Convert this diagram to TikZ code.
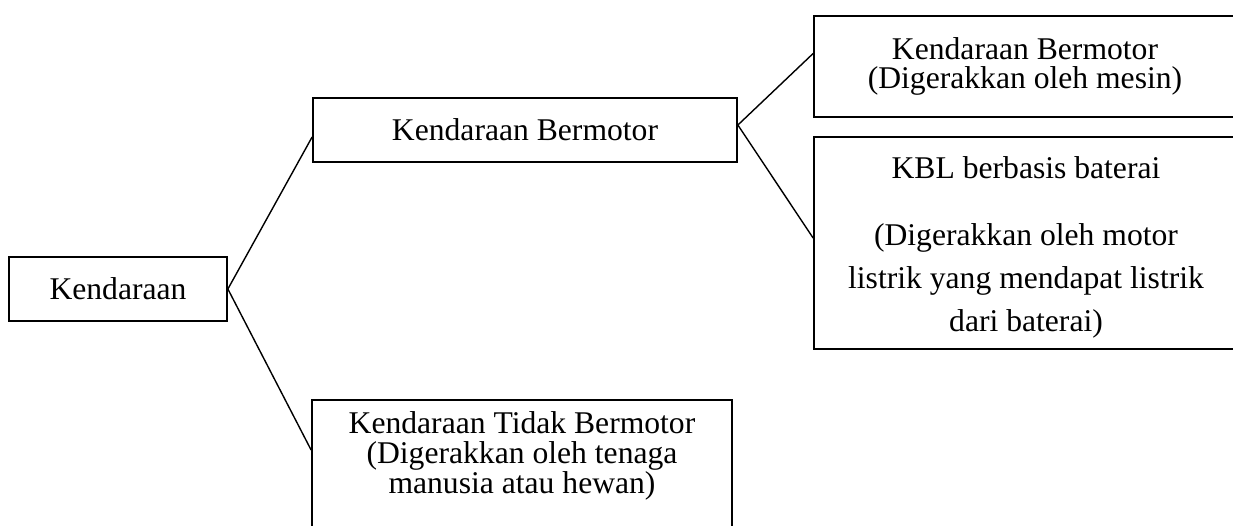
\documentclass[tikz,border=0pt]{standalone}
\usepackage{fontspec}
\setmainfont{Liberation Serif}

\tikzset{
    kotak/.style={draw,line width=1pt,align=center,inner sep=0pt},
    garis/.style={line width=0.8pt}
}

\begin{document}
\begin{tikzpicture}[x=0.02cm,y=-0.02cm,font=\fontsize{18}{17}\selectfont]
        \useasboundingbox (0,0) rectangle (1233,525);
        \clip (0,0) rectangle (1233,525);
        % kotak-kotak
        \node[kotak,minimum width=218*0.02cm,minimum height=64*0.02cm] (kend) at (118,289) {Kendaraan};
        \node[kotak,minimum width=424*0.02cm,minimum height=64*0.02cm] (kb) at (525,130) {Kendaraan Bermotor};
        \node[kotak,minimum width=422*0.02cm,minimum height=101*0.02cm] (kbm) at (1025,66.5)
            {Kendaraan Bermotor\\(Digerakkan oleh mesin)};
        \node[kotak,minimum width=424*0.02cm,minimum height=212*0.02cm,font=\fontsize{18}{24.6}\selectfont] (kbl) at (1026,243)
            {\rule{0pt}{0.62cm}KBL berbasis baterai\\[0.46cm](Digerakkan oleh motor\\listrik yang mendapat listrik\\dari baterai)};
        \node[kotak,minimum width=420*0.02cm,anchor=north] (ktb) at (522,399)
            {\rule{0pt}{0.68cm}Kendaraan Tidak Bermotor\\(Digerakkan oleh tenaga\\manusia atau hewan)\rule[-2cm]{0pt}{2cm}};
        % garis penghubung
        \draw[garis] (kend.east) -- ([yshift=-0.14cm]kb.west);
        \draw[garis] (kend.east) -- ([yshift=-1.02cm]ktb.north west);
        \draw[garis] ([yshift=0.1cm]kb.east) -- ([yshift=0.26cm]kbm.west);
        \draw[garis] ([yshift=0.1cm]kb.east) -- ([yshift=0.1cm]kbl.west);
    \end{tikzpicture}
\end{document}
